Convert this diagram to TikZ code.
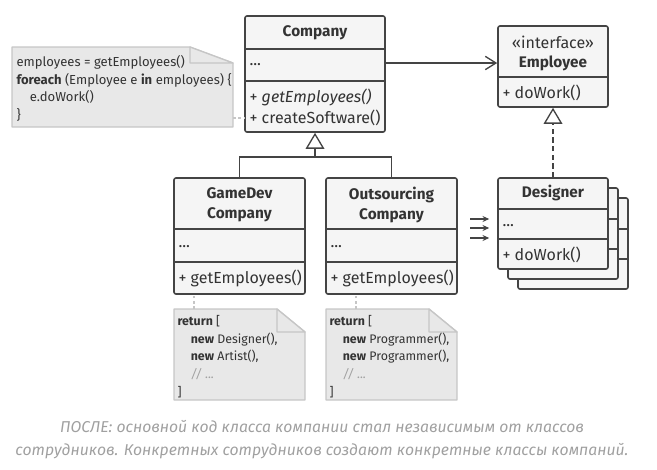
\documentclass[tikz,border=0pt]{standalone}
\usepackage{fontspec}
\setmainfont{Fira Sans}
\usetikzlibrary{arrows.meta,positioning}

\definecolor{umlline}{RGB}{68,68,68}
\definecolor{umlfill}{RGB}{245,245,245}
\definecolor{notefill}{RGB}{232,232,232}
\definecolor{noteline}{RGB}{198,198,198}
\definecolor{umltext}{RGB}{51,51,51}
\definecolor{captext}{RGB}{160,160,160}

\tikzset{every picture/.style={line width=0.75pt}}
\tikzset{
  classbox/.style={draw=umlline, fill=umlfill, line width=1.2pt, rounded corners=1.5pt, inner sep=0pt},
  classline/.style={draw=umlline, line width=1.2pt},
  umlconn/.style={draw=umlline, line width=1pt},
  classtitle/.style={font=\bfseries\fontsize{11.5}{15}\selectfont, text=umltext, align=center, inner sep=0.75pt},
  member/.style={anchor=west, font=\fontsize{12}{14}\selectfont, text=umltext, inner sep=0.75pt},
  notebox/.style={draw=noteline, fill=notefill, line width=1pt, line join=round},
  notetext/.style={anchor=north west, align=left, font=\fontsize{9.3}{13.2}\selectfont, text=umltext, inner sep=0.75pt},
  notelink/.style={draw=noteline, line width=0.8pt, dash pattern=on 2pt off 2pt},
  assoc/.style={umlconn, -{Straight Barb[length=8pt, width=10pt]}},
  inherit/.style={umlconn, -{Triangle[open, length=12pt, width=14pt]}},
  realize/.style={inherit, dash pattern=on 4pt off 2.5pt},
  flow/.style={umlconn, -{Stealth[length=5pt, width=4.5pt]}, shorten >=6pt},
}

\begin{document}
\begin{tikzpicture}[x=0.75pt,y=0.75pt,yscale=-1,xscale=1]
    \useasboundingbox (0,0) rectangle (657,469);

    % Company
    \node[classbox, minimum width=105pt, minimum height=87pt] (company) at (315,74) {};
    \draw[classline] (245,49) -- (385,49);
    \draw[classline] (245,81) -- (385,81);
    \node[classtitle] (companyT) at (315,33) {Company};
    \node[member] (companyF) at (248,65) {...};
    \node[member] (companyM1) at (248,97) {+ \textit{getEmployees()}};
    \node[member] (companyM2) at (248,118) {+ createSoftware()};

    % Employee interface
    \node[classbox, minimum width=82.5pt, minimum height=60.75pt] (employee) at (553,66.5) {};
    \draw[classline] (498,77) -- (608,77);
    \node[member, anchor=center] (employeeS) at (553,42) {«interface»};
    \node[classtitle] (employeeT) at (553,63) {Employee};
    \node[member] (employeeM) at (501,93) {+ doWork()};

    % GameDev Company
    \node[classbox, minimum width=98.25pt, minimum height=87pt] (gamedev) at (239.5,236) {};
    \draw[classline] (174,229) -- (305,229);
    \draw[classline] (174,262) -- (305,262);
    \node[classtitle] (gamedevT) at (239.5,205) {GameDev\\Company};
    \node[member] (gamedevF) at (177,247) {...};
    \node[member] (gamedevM) at (177,278) {+ getEmployees()};

    % Outsourcing Company
    \node[classbox, minimum width=98.25pt, minimum height=87pt] (outsourcing) at (391.5,236) {};
    \draw[classline] (326,229) -- (457,229);
    \draw[classline] (326,262) -- (457,262);
    \node[classtitle] (outsourcingT) at (391.5,205) {Outsourcing\\Company};
    \node[member] (outsourcingF) at (329,247) {...};
    \node[member] (outsourcingM) at (329,278) {+ getEmployees()};

    % Designer (stack of objects)
    \foreach \d in {20,10} {
      \draw[classbox] (498+\d,178+\d) rectangle (608+\d,269+\d);
      \draw[classline] (498+\d,209+\d) -- (608+\d,209+\d);
      \draw[classline] (498+\d,239+\d) -- (608+\d,239+\d);
    }
    \node[classbox, minimum width=82.5pt, minimum height=68.25pt] (designer) at (553,223.5) {};
    \draw[classline] (498,209) -- (608,209);
    \draw[classline] (498,239) -- (608,239);
    \node[classtitle] (designerT) at (553,193) {Designer};
    \node[member] (designerF) at (501,226) {...};
    \node[member] (designerM) at (501,255) {+ doWork()};

    % Notes
    \draw[notebox] (12,47) -- (190,47) -- (233,63) -- (233,127) -- (12,127) -- cycle;
    \draw[notebox] (190,47) -- (190,63) -- (233,63) -- cycle;
    \node[notetext, font=\fontsize{9.8}{13.2}\selectfont] (noteMain) at (15,54) {employees = getEmployees()\\
      \textbf{foreach} (Employee e \textbf{in} employees) \{\\
      \hspace*{10pt}e.doWork()\\
      \}};

    \draw[notebox] (174,309) -- (277,309) -- (305,332) -- (305,400) -- (174,400) -- cycle;
    \draw[notebox] (277,309) -- (277,332) -- (305,332) -- cycle;
    \node[notetext] (noteGame) at (176,314) {\textbf{return} [\\
      \hspace*{10pt}\textbf{new} Designer(),\\
      \hspace*{10pt}\textbf{new} Artist(),\\
      \hspace*{10pt}{\color{captext}\textit{// ...}}\\
      ]};

    \draw[notebox] (326,309) -- (429,309) -- (457,332) -- (457,400) -- (326,400) -- cycle;
    \draw[notebox] (429,309) -- (429,332) -- (457,332) -- cycle;
    \node[notetext] (noteOut) at (328,314) {\textbf{return} [\\
      \hspace*{10pt}\textbf{new} Programmer(),\\
      \hspace*{10pt}\textbf{new} Programmer(),\\
      \hspace*{10pt}{\color{captext}\textit{// ...}}\\
      ]};

    % Note links
    \coordinate (linkMain) at (233,118);
    \draw[notelink] (linkMain) -- (linkMain -| company.west);
    \coordinate (linkGame) at (194,309);
    \draw[notelink] (linkGame) -- (linkGame |- gamedev.south);
    \coordinate (linkOut) at (356,309);
    \draw[notelink] (linkOut) -- (linkOut |- outsourcing.south);

    % Relations
    \draw[assoc] (company.east |- 0,63) -- (employee.west |- 0,63);
    \coordinate (join) at (315,157);
    \draw[inherit] (gamedev.north) |- (join) -- (company.south);
    \draw[umlconn] (outsourcing.north) |- (join);
    \draw[realize] (designer.north) -- (employee.south);
    \foreach \y [count=\i] in {219,228,238} {
      \coordinate (in\i) at (470,\y);
      \draw[flow] (in\i) -- (in\i -| designer.west);
    }

    % Caption
    \node[font=\itshape\fontsize{11.8}{17.25}\selectfont, text=captext, align=center] (caption) at (322,440)
      {ПОСЛЕ: основной код класса компании стал независимым от классов\\
       сотрудников. Конкретных сотрудников создают конкретные классы компаний.};
\end{tikzpicture}
\end{document}
